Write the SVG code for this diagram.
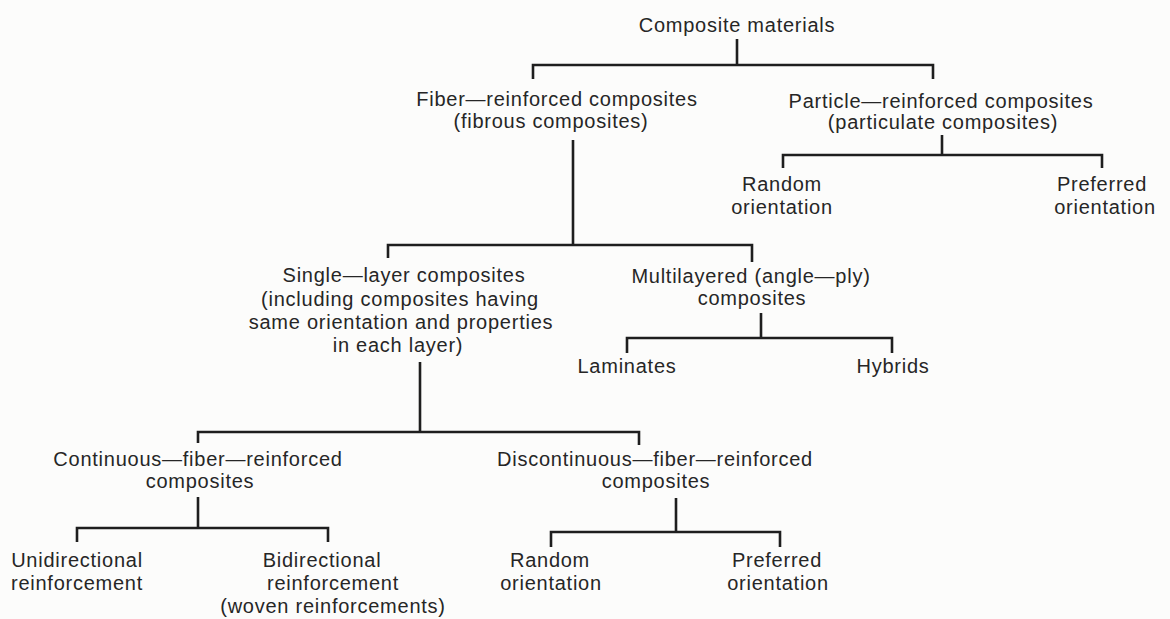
<svg xmlns="http://www.w3.org/2000/svg" width="1170" height="619" viewBox="0 0 1170 619">
<style>
  text { font-family: "Liberation Sans", Arial, sans-serif; font-size: 20px; fill: #262626; letter-spacing: 0.75px; text-anchor: middle; }
  .c { fill: none; stroke: #1e1e1e; stroke-width: 2.6; stroke-linejoin: miter; stroke-linecap: butt; }
</style>
<rect width="1170" height="619" fill="#fcfcfb"/>
<g id="connectors">
  <path class="c" d="M737 39V65M533 79V65H933V79"/>
  <path class="c" d="M573 140V245M388 258V245H752V262"/>
  <path class="c" d="M942 135V155M783 168V155H1102V168"/>
  <path class="c" d="M420 362V432M198 443V432H639V445"/>
  <path class="c" d="M761 313V338M627 353V338H892V353"/>
  <path class="c" d="M198 497V528M77 542V528H328V542"/>
  <path class="c" d="M676 498V532M551 547V532H780V547"/>
</g>
<g id="root"><text x="737" y="32">Composite materials</text></g>
<g id="fiber"><text x="557" y="106">Fiber—reinforced composites</text><text x="551" y="128">(fibrous composites)</text></g>
<g id="particle"><text x="941" y="108">Particle—reinforced composites</text><text x="943" y="129">(particulate composites)</text></g>
<g id="p-random"><text x="782" y="191">Random</text><text x="782" y="214">orientation</text></g>
<g id="p-preferred"><text x="1102" y="191">Preferred</text><text x="1105" y="214">orientation</text></g>
<g id="single"><text x="404" y="282">Single—layer composites</text><text x="400" y="306">(including composites having</text><text x="401" y="329">same orientation and properties</text><text x="398" y="352">in each layer)</text></g>
<g id="multi"><text x="751" y="283">Multilayered (angle—ply)</text><text x="752" y="305">composites</text></g>
<g id="laminates"><text x="627" y="373">Laminates</text></g>
<g id="hybrids"><text x="893" y="373">Hybrids</text></g>
<g id="continuous"><text x="198" y="466">Continuous—fiber—reinforced</text><text x="200" y="488">composites</text></g>
<g id="discontinuous"><text x="655" y="466">Discontinuous—fiber—reinforced</text><text x="656" y="488">composites</text></g>
<g id="unidirectional"><text x="77" y="567">Unidirectional</text><text x="77" y="590">reinforcement</text></g>
<g id="bidirectional"><text x="322" y="567">Bidirectional</text><text x="333" y="590">reinforcement</text><text x="333" y="613">(woven reinforcements)</text></g>
<g id="d-random"><text x="550" y="567">Random</text><text x="551" y="590">orientation</text></g>
<g id="d-preferred"><text x="777" y="567">Preferred</text><text x="778" y="590">orientation</text></g>
</svg>
